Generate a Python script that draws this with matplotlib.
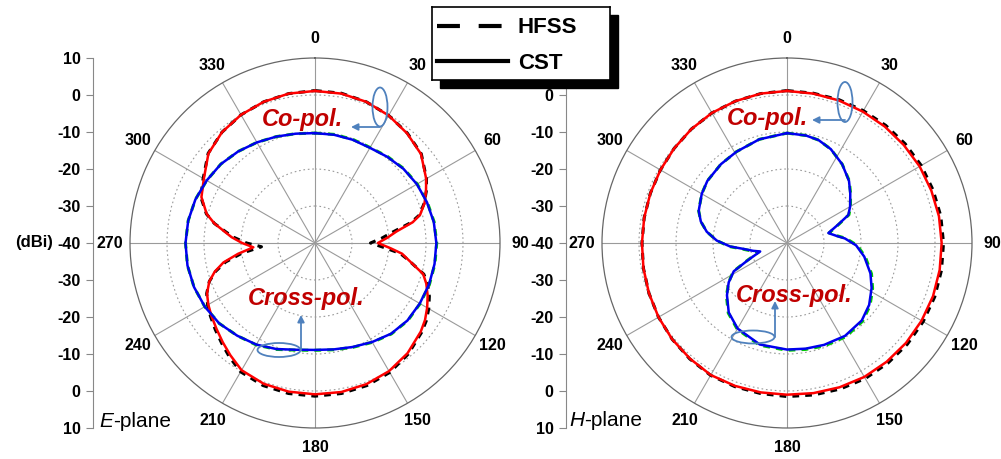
import matplotlib.pyplot as plt
import numpy as np
from matplotlib.lines import Line2D
from matplotlib.patches import Ellipse, Rectangle, FancyArrowPatch

plt.rcParams['font.family'] = ['Liberation Sans', 'DejaVu Sans']

# ---- E-plane, co-polarisation (dBi) ----
e_co_ang = [0, 10, 20, 30, 40, 50, 60, 65, 70, 75, 78, 82, 86, 90, 94, 97, 100, 106, 110, 115,
            120, 125, 130, 140, 150, 160, 170, 180, 190, 200, 210, 217, 223, 229, 235, 240, 245,
            250, 254, 258, 262, 266, 270, 274, 277, 281, 285, 292, 300, 310, 320, 330, 340, 350, 360]
e_co_cst = [1.1, 1.0, 0.6, -0.2, -1.3, -2.6, -5.3, -6.9, -8.5, -10.6, -13.0, -17.8, -20.5, -23.0,
            -19.5, -16.3, -14.5, -9.6, -8.0, -6.4, -5.0, -3.7, -2.7, -1.1, 0.0, 0.6, 0.9, 0.9,
            0.8, 0.5, -0.3, -2.0, -3.4, -4.7, -5.8, -6.7, -7.8, -9.6, -11.8, -14.7, -19.0, -23.3,
            -20.3, -17.4, -15.5, -12.3, -9.7, -6.9, -5.3, -2.4, -0.9, 0.0, 0.6, 1.0, 1.1]
e_co_hfss = [1.2, 1.1, 0.6, -0.2, -1.2, -2.5, -5.2, -6.8, -8.6, -10.8, -13.5, -18.8, -22.0, -25.0,
             -21.0, -16.8, -14.6, -9.4, -7.6, -5.9, -4.5, -3.3, -2.4, -0.8, 0.4, 1.0, 1.3, 1.4,
             1.3, 1.0, 0.2, -1.5, -3.0, -4.3, -5.5, -6.5, -7.7, -9.6, -12.0, -15.3, -20.0, -25.5,
             -21.5, -18.0, -15.8, -12.3, -9.6, -6.7, -5.1, -2.3, -0.9, 0.0, 0.6, 1.0, 1.2]

# ---- E-plane, cross-polarisation (dBi) ----
e_x_ang = list(range(0, 361, 10))
e_x_cst = [-10.3, -10.3, -10.3, -10.3, -9.6, -8.8, -8.2, -7.8, -7.4, -7.2, -7.2, -7.2, -7.3,
           -7.4, -8.0, -9.1, -10.1, -10.8, -11.1, -10.7, -9.5, -8.3, -7.3, -6.2, -5.6, -5.2,
           -5.0, -5.0, -5.2, -5.6, -6.2, -6.8, -7.7, -8.6, -9.4, -10.0, -10.3]
e_x_hfss = [-10.3, -10.2, -10.2, -10.2, -9.5, -8.7, -8.1, -7.7, -7.3, -7.1, -7.1, -7.1, -7.2,
            -7.3, -7.9, -9.0, -10.0, -10.7, -11.0, -10.6, -9.4, -8.2, -7.3, -6.2, -5.6, -5.2,
            -5.0, -5.0, -5.2, -5.6, -6.2, -6.8, -7.7, -8.6, -9.4, -10.0, -10.3]

# ---- H-plane, co-polarisation (dBi) ----
h_co_ang = list(range(0, 361, 10))
h_co_cst = [1.1, 1.0, 1.0, 1.0, 1.1, 1.2, 1.4, 1.5, 1.7, 1.8, 1.9, 2.0, 2.0, 2.0, 1.9, 1.8,
            1.5, 1.2, 1.0, 1.0, 1.1, 1.2, 0.8, 0.5, 0.1, -0.3, -0.6, -0.8, -0.8, -0.7, -0.5,
            -0.2, 0.2, 0.6, 0.8, 1.0, 1.1]
h_co_hfss = [1.2, 1.1, 1.2, 1.3, 1.5, 1.7, 1.9, 2.0, 2.2, 2.3, 2.4, 2.5, 2.5, 2.5, 2.4, 2.3,
             2.0, 1.7, 1.5, 1.3, 1.3, 1.3, 0.9, 0.5, 0.1, -0.3, -0.6, -0.8, -0.8, -0.7, -0.5,
             -0.2, 0.2, 0.6, 0.8, 1.0, 1.2]

# ---- H-plane, cross-polarisation (dBi) ----
h_x_ang = [0, 10, 17, 25, 35, 45, 52, 60, 65.5, 70, 76.5, 82, 85.5, 92, 100, 110, 118, 127, 136,
           148, 160, 170, 180, 195, 210, 220, 229, 236, 242, 246, 252.5, 257, 262, 266.5, 272,
           278, 284, 290, 300, 308, 320, 331, 345, 360]
h_x_cst = [-10.3, -10.5, -10.9, -12.0, -14.0, -16.3, -18.3, -20.3, -21.8, -25.2, -28.5, -26.4,
           -24.3, -21.3, -18.8, -16.0, -14.1, -12.2, -10.9, -10.4, -10.7, -11.0, -11.2, -11.6,
           -13.3, -15.5, -18.5, -21.0, -23.7, -28.2, -32.4, -30.6, -28.3, -24.6, -21.0, -18.1,
           -16.0, -14.6, -13.4, -12.7, -12.2, -11.8, -11.0, -10.3]
h_x_hfss = [-10.3, -10.5, -10.9, -12.0, -14.0, -16.2, -18.2, -20.2, -21.6, -25.0, -28.3, -26.2,
            -24.0, -21.0, -18.5, -15.7, -13.8, -11.9, -10.6, -10.1, -10.4, -10.8, -11.0, -11.4,
            -13.1, -15.3, -18.3, -21.0, -23.5, -28.0, -32.0, -30.3, -28.0, -24.4, -21.0, -18.1,
            -16.0, -14.6, -13.4, -12.7, -12.2, -11.8, -11.0, -10.3]

angle_ticks = list(range(0, 360, 30))
scale_labels = ['10', '0', '-10', '-20', '-30', '-40', '-30', '-20', '-10', '0', '10']

W, H = 1001, 459
R = 185          # polar radius, px
CY = 243         # polar centre row, px
NOTE = '#C00000'
ARROW = '#4F81BD'


def fx(x):
    return x / W


def fy(y):
    return 1 - y / H


def polar_panel(cx):
    ax = fig.add_axes([fx(cx - R), fy(CY + R), 2 * R / W, 2 * R / H], projection='polar')
    ax.set_theta_zero_location('N')
    ax.set_theta_direction(-1)
    ax.set_ylim(-40, 10)
    ax.set_yticks([-30, -20, -10, 0])
    ax.set_yticklabels([])
    ax.set_xticks(np.deg2rad(angle_ticks))
    ax.set_xticklabels([])
    ax.set_xticks(np.deg2rad([a for a in range(0, 360, 10) if a % 30]), minor=True)
    ax.tick_params(axis='x', which='major', length=0)
    ax.tick_params(axis='x', which='minor', direction='in', length=4, width=0.8, color='#777777')
    ax.xaxis.grid(True, color='#9a9a9a', lw=0.8, ls='-')
    ax.yaxis.grid(True, color='#9a9a9a', lw=0.8, ls=(0, (1.5, 2.5)))
    ax.spines['polar'].set_color('#666666')
    ax.spines['polar'].set_linewidth(0.9)
    for a in angle_ticks:
        ax.text(np.deg2rad(a), 15.4, str(a), ha='center', va='center',
                fontsize=11.5, fontweight='bold', clip_on=False)
    return ax


def radial_scale(x, labels):
    rax = fig.add_axes([fx(x), fy(CY + R), 0.0001, 2 * R / H])
    rax.set_ylim(-50, 50)
    rax.set_yticks(np.arange(-50, 51, 10))
    rax.set_yticklabels(labels, fontsize=11.5, fontweight='bold')
    rax.set_xticks([])
    for side in ['top', 'right', 'bottom']:
        rax.spines[side].set_visible(False)
    rax.spines['left'].set_color('#888888')
    rax.tick_params(axis='y', direction='out', length=5, width=0.8, color='#888888', pad=4)
    rax.patch.set_alpha(0)
    return rax


def draw_patterns(ax, co_ang, co_hfss, co_cst, x_ang, x_hfss, x_cst):
    ax.plot(np.deg2rad(co_ang), co_hfss, color='black', lw=2.2, ls=(0, (2.2, 2.0)), zorder=3)
    ax.plot(np.deg2rad(x_ang), x_hfss, color='#00CC00', lw=2.2, ls=(0, (2.2, 2.0)), zorder=3)
    ax.plot(np.deg2rad(co_ang), co_cst, color='#FF0000', lw=1.8, zorder=4)
    ax.plot(np.deg2rad(x_ang), x_cst, color='#0000EE', lw=1.8, zorder=4)


def note(text, x, y):
    fig.text(fx(x), fy(y), text, color=NOTE, fontsize=17, fontweight='bold',
             fontstyle='italic', ha='left', va='baseline', zorder=6)


def ring(x, y, w, h):
    fig.add_artist(Ellipse((fx(x), fy(y)), w / W, h / H, transform=fig.transFigure,
                           fill=False, ec=ARROW, lw=1.3, zorder=6))


def pointer(x0, y0, x1, y1):
    fig.add_artist(FancyArrowPatch((fx(x0), fy(y0)), (fx(x1), fy(y1)), transform=fig.transFigure,
                                   arrowstyle='-|>', mutation_scale=10, color=ARROW, lw=1.3,
                                   shrinkA=0, shrinkB=0, zorder=6))


def plane_label(letter, x, y):
    # italic field letter followed by upright "-plane"
    t = fig.text(fx(x), fy(y), letter, fontsize=15, fontstyle='italic', ha='left', va='baseline')
    fig.add_artist(plt.Annotation('-plane', xy=(1, 0), xycoords=t, fontsize=15,
                                  ha='left', va='bottom', annotation_clip=False))


fig = plt.figure(figsize=(W / 100, H / 100), dpi=100)

# E-plane (left) and H-plane (right)
ax_e = polar_panel(315)
ax_h = polar_panel(787)
draw_patterns(ax_e, e_co_ang, e_co_hfss, e_co_cst, e_x_ang, e_x_hfss, e_x_cst)
draw_patterns(ax_h, h_co_ang, h_co_hfss, h_co_cst, h_x_ang, h_x_hfss, h_x_cst)

radial_scale(93, scale_labels)
# the top label of the right scale sits under the legend box
radial_scale(566, scale_labels[:-1] + [''])
fig.text(fx(53), fy(CY), '(dBi)', fontsize=12, fontweight='bold', ha='right', va='center')

plane_label('E', 99, 427)
plane_label('H', 569, 426)

# callouts
note('Co-pol.', 262, 126)
ring(380, 107, 15, 39)
pointer(380, 127, 351, 127)
note('Cross-pol.', 248, 305)
ring(279, 350, 43, 14)
pointer(301, 350, 301, 315)

note('Co-pol.', 727, 125)
ring(845, 102, 15, 40)
pointer(845, 120, 812, 120)
note('Cross-pol.', 736, 302)
ring(753, 337, 43, 13)
pointer(775, 337, 775, 301)

# legend box with a solid drop shadow
fig.add_artist(Rectangle((fx(440), fy(88)), 178 / W, 73 / H, transform=fig.transFigure,
                         color='black', zorder=7))
lax = fig.add_axes([fx(432), fy(80), 178 / W, 73 / H], zorder=8)
lax.set_xticks([])
lax.set_yticks([])
for s in lax.spines.values():
    s.set_linewidth(1.2)
    s.set_color('black')
handles = [Line2D([], [], color='black', lw=3, ls=(0, (5.5, 4.5))),
           Line2D([], [], color='black', lw=3)]
lax.legend(handles, ['HFSS', 'CST'], loc='center left', bbox_to_anchor=(-0.01, 0.47),
           frameon=False, handlelength=3.2, handletextpad=0.45, labelspacing=0.65,
           borderaxespad=0.1, borderpad=0.2,
           prop={'family': 'Liberation Sans', 'weight': 'bold', 'size': 16})

fig.savefig('out.png', dpi=100)
